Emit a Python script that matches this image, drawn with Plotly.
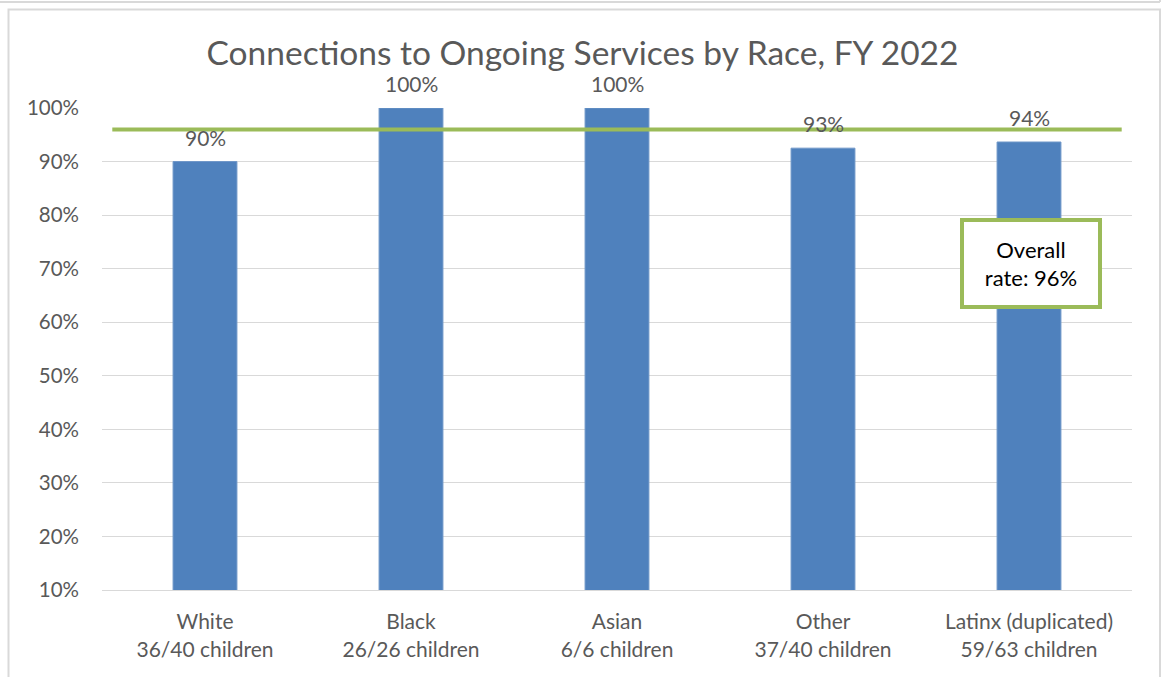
import plotly.graph_objects as go

# Children connected to ongoing services, by race
races = ["White", "Black", "Asian", "Other", "Latinx (duplicated)"]
connected = [36, 26, 6, 37, 59]
served = [40, 26, 6, 40, 63]
overall_rate = 0.96

rates = [c / s for c, s in zip(connected, served)]
labels = [f"{r}<br>{c}/{s} children" for r, c, s in zip(races, connected, served)]
pct_text = [f"{int(v * 100 + 0.5)}%" for v in rates]

W, H = 1165, 677
L, R, T, B = 102, 1132, 108, 590  # plot area in pixels

BLUE = "#4F81BD"
GREEN = "#9BBB59"
GRID = "#D9D9D9"
TXT = "#595959"
FONT = "Lato, 'Open Sans', sans-serif"


def px_x(p):
    return (p - L) / (R - L)


def px_y(p):
    return (B - p) / (B - T)


fig = go.Figure()
fig.add_trace(go.Bar(
    x=labels, y=rates, width=0.31,
    marker=dict(color=BLUE, line=dict(color="#6F97C8", width=1)),
    hoverinfo="skip",
))

# value labels above each bar
for lab, v, t in zip(labels, rates, pct_text):
    fig.add_annotation(x=lab, y=v, text=t, showarrow=False, yanchor="bottom",
                       yshift=10, font=dict(size=21, color=TXT, family=FONT))

# overall rate line
fig.add_shape(type="line", xref="x", yref="y", x0=-0.45, x1=4.45,
              y0=overall_rate, y1=overall_rate, layer="above",
              line=dict(color=GREEN, width=4))

# overall rate callout
fig.add_annotation(xref="paper", yref="paper", x=px_x(1031), y=px_y(263),
                   text=f"Overall<br>rate: {int(overall_rate * 100 + 0.5)}%",
                   showarrow=False, xanchor="center", yanchor="middle",
                   font=dict(size=22, color="#000000", family=FONT),
                   bgcolor="white", bordercolor=GREEN, borderwidth=4,
                   borderpad=8, width=118, height=67, align="center")

# chart frame
fig.add_shape(type="rect", xref="paper", yref="paper",
              x0=px_x(8.5), x1=px_x(1160), y0=px_y(700), y1=px_y(9.5),
              line=dict(color=GRID, width=2), layer="below")
fig.add_shape(type="line", xref="paper", yref="paper",
              x0=px_x(0), x1=px_x(1160), y0=px_y(2), y1=px_y(2),
              line=dict(color=GRID, width=2))
fig.add_shape(type="line", xref="paper", yref="paper",
              x0=px_x(1160), x1=px_x(1160), y0=px_y(-5), y1=px_y(2),
              line=dict(color=GRID, width=2))

fig.update_layout(
    width=W, height=H,
    margin=dict(l=L, r=W - R, t=T, b=H - B),
    paper_bgcolor="white", plot_bgcolor="white",
    showlegend=False, bargap=0.69,
    font=dict(family=FONT, color=TXT),
    title=dict(text="Connections to Ongoing Services by Race, FY 2022",
               x=0.5, xref="container", xanchor="center",
               y=1 - 53 / H, yref="container", yanchor="middle",
               font=dict(size=33.5, color=TXT, family=FONT)),
    xaxis=dict(range=[-0.5, 4.5], showgrid=False, showline=True,
               linecolor=GRID, linewidth=1, ticks="", ticklabelstandoff=13,
               tickfont=dict(size=21, color=TXT, family=FONT)),
    yaxis=dict(range=[0.1, 1.0], dtick=0.1, tick0=0.1, tickformat=".0%",
               showgrid=True, gridcolor=GRID, gridwidth=1, zeroline=False,
               showline=False, ticks="", ticklabelstandoff=22,
               tickfont=dict(size=20.5, color=TXT, family=FONT)),
)

fig.write_html("out.html")
